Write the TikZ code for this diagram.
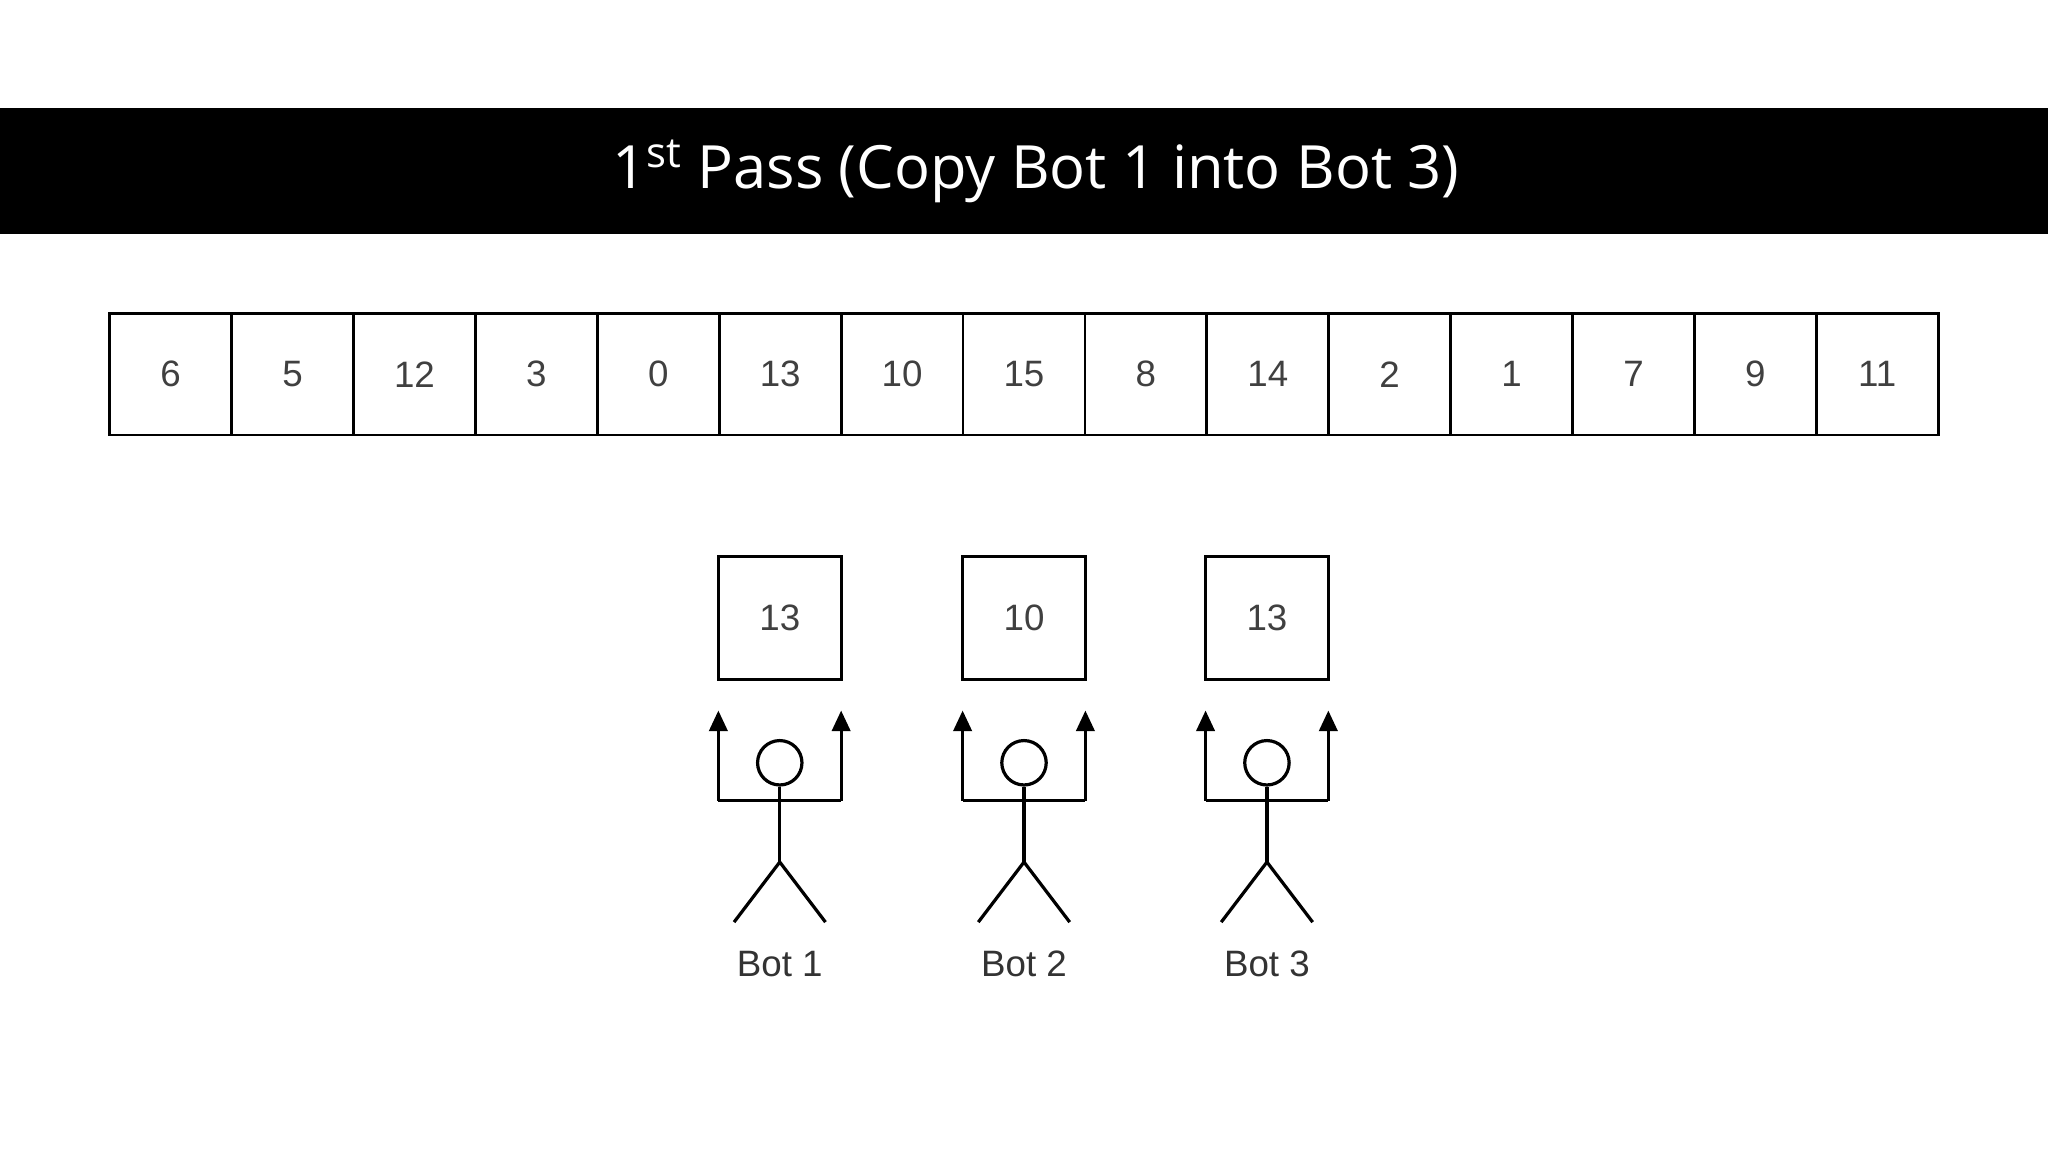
\documentclass[tikz,border=0pt]{standalone}
\usepackage{fontspec}
\setmainfont{Liberation Sans}
\newfontfamily\titlefont{Open Sans}
\usetikzlibrary{arrows.meta}
\begin{document}
\begin{tikzpicture}[x=0.02cm,y=-0.02cm,
  cell/.style={draw,line width=1.2pt,minimum width=93.33*0.02cm,minimum height=93*0.02cm,inner sep=0pt,font=\fontsize{16}{19}\selectfont,text=black!75},
  bline/.style={line width=1.4pt},
  arr/.style={line width=1.4pt,-{Triangle[length=9pt,width=8pt]}}]
\useasboundingbox (0,0) rectangle (1568,882);
\fill[black] (0,83) rectangle (1568,179);
\node[text=white,font=\titlefont\fontsize{26}{31}\selectfont] (title) at (793,131) {1\textsuperscript{st} Pass (Copy Bot 1 into Bot 3)};
\foreach \v [count=\i from 0] in {6,5,12,3,0,13,10,15,8,14,2,1,7,9,11}
  \node[cell] (c\i) at ({84+93.33*\i+46.67},286.5) {\v};
\foreach \cx/\v/\n in {597/13/1,784/10/2,970/13/3}{
  \node[cell,minimum width=94*0.02cm,minimum height=94*0.02cm] (box\n) at (\cx,473) {\v};
  \node[draw,circle,line width=1.4pt,minimum size=34*0.02cm,inner sep=0pt] (head\n) at (\cx,584) {};
  \coordinate (l\n) at (\cx-47,613);
  \coordinate (r\n) at (\cx+47,613);
  \coordinate (hip\n) at (\cx,660);
  \draw[bline] (l\n) -- (r\n);
  \draw[arr] (l\n) -- ++(0,-69);
  \draw[arr] (r\n) -- ++(0,-69);
  \draw[bline] (head\n.south) -- (hip\n);
  \draw[bline] (\cx-35,706) -- (hip\n) -- (\cx+35,706);
  \node[font=\fontsize{16}{19}\selectfont,text=black!80] (lab\n) at (\cx,738) {Bot \n};
}
\end{tikzpicture}
\end{document}
